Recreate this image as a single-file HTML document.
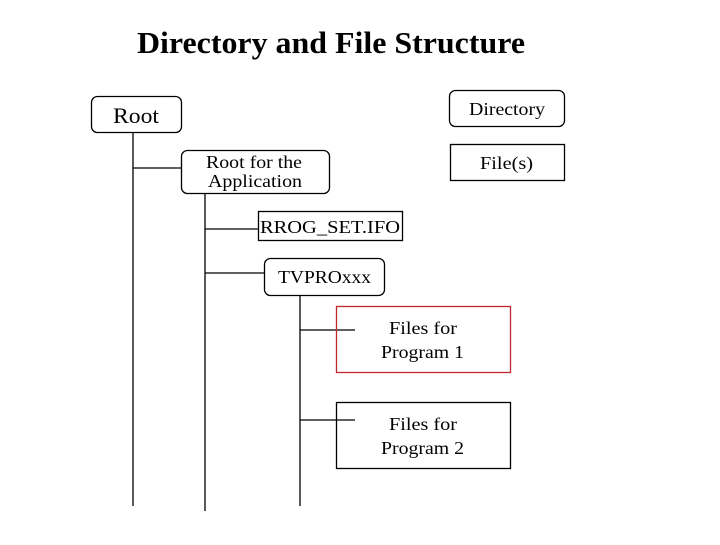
<!DOCTYPE html>
<html><head><style>
body{margin:0;background:#fff;}
svg text{font-family:"Liberation Serif",serif;fill:#000;}
</style></head><body>
<svg width="720" height="540" xmlns="http://www.w3.org/2000/svg">
<rect width="720" height="540" fill="#fff"/>
<text x="137" y="53" font-size="31" font-weight="bold" textLength="388" lengthAdjust="spacingAndGlyphs">Directory and File Structure</text>
<g stroke="#000" stroke-width="1.3" fill="none">
<line x1="133" y1="132" x2="133" y2="506"/>
<line x1="133" y1="168" x2="181" y2="168"/>
<line x1="205" y1="193" x2="205" y2="511"/>
<line x1="205" y1="229" x2="259" y2="229"/>
<line x1="205" y1="273" x2="265" y2="273"/>
<line x1="300" y1="295" x2="300" y2="506"/>
<line x1="300" y1="330" x2="355" y2="330"/>
<line x1="300" y1="420" x2="355" y2="420"/>
<rect x="91.5" y="96.5" width="90" height="36" rx="6"/>
<rect x="449.5" y="90.5" width="115" height="36" rx="6"/>
<rect x="450.5" y="144.5" width="114" height="36"/>
<rect x="181.5" y="150.5" width="148" height="43" rx="6"/>
<rect x="258.5" y="211.5" width="144" height="29"/>
<rect x="264.5" y="258.5" width="120" height="37" rx="6"/>
<rect x="336.5" y="402.5" width="174" height="66"/>
</g>
<rect x="336.5" y="306.5" width="174" height="66" fill="none" stroke="#c0282d" stroke-width="1.3"/>
<text x="113" y="123" font-size="22" textLength="46" lengthAdjust="spacingAndGlyphs">Root</text>
<text x="469" y="115" font-size="18" textLength="76" lengthAdjust="spacingAndGlyphs">Directory</text>
<text x="480" y="169" font-size="18" textLength="53" lengthAdjust="spacingAndGlyphs">File(s)</text>
<text x="206" y="168" font-size="18" textLength="96" lengthAdjust="spacingAndGlyphs">Root for the</text>
<text x="208" y="187" font-size="18" textLength="94" lengthAdjust="spacingAndGlyphs">Application</text>
<text x="260" y="233" font-size="18" textLength="140" lengthAdjust="spacingAndGlyphs">RROG_SET.IFO</text>
<text x="278" y="283" font-size="18" textLength="93" lengthAdjust="spacingAndGlyphs">TVPROxxx</text>
<text x="389" y="334" font-size="18" textLength="68" lengthAdjust="spacingAndGlyphs">Files for</text>
<text x="381" y="358" font-size="18" textLength="83" lengthAdjust="spacingAndGlyphs">Program  1</text>
<text x="389" y="430" font-size="18" textLength="68" lengthAdjust="spacingAndGlyphs">Files for</text>
<text x="381" y="454" font-size="18" textLength="83" lengthAdjust="spacingAndGlyphs">Program  2</text>
</svg>
</body></html>
